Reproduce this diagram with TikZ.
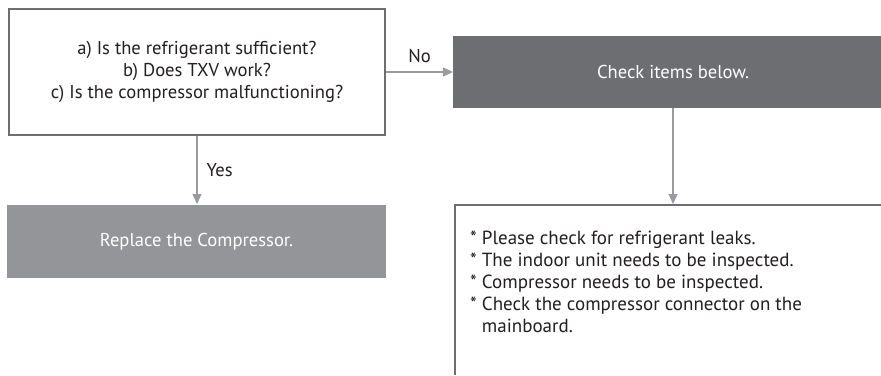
\documentclass[tikz,border=0pt]{standalone}
\usepackage{fontspec}
\setmainfont{PT Sans}
\usetikzlibrary{arrows.meta}
\definecolor{dgray}{HTML}{6D6E71}
\definecolor{lgray}{HTML}{939598}
\definecolor{agray}{HTML}{9A9B9E}
\definecolor{tblack}{HTML}{231F20}
\tikzset{
  x=1pt,y=-1pt,
  txt/.style={font=\fontsize{18.6}{21.7}\selectfont},
  qbox/.style={draw=dgray,line width=2pt,inner sep=0pt,txt,text=tblack,align=center},
  fillbox/.style={inner sep=0pt,txt,text=white,align=center},
  conn/.style={draw=agray,line width=1.3pt,-{Triangle[length=10pt,width=9pt]}},
  lbl/.style={txt,text=tblack,inner sep=0pt},
  edgeline/.style={draw=dgray,line width=2pt}
}
\begin{document}
\begin{tikzpicture}
\fill[white] (0,0) rectangle (881,375);
\useasboundingbox (0,0) rectangle (881,375);
\node[qbox,minimum width=376pt,minimum height=126pt] (q) at (197,72) {a) Is the refrigerant sufficient?\\b) Does TXV work?\\c) Is the compressor malfunctioning?};
\node[fillbox,fill=dgray,minimum width=428pt,minimum height=72pt,anchor=west] (c) at (453,72) {};
\node[fillbox,text=white] (ct) at (673,72) {Check items below.};
\node[fillbox,fill=lgray,minimum width=379pt,minimum height=73pt] (r) at (196.5,241.5) {Replace the Compressor.};
\coordinate (bc) at (455,205);
\path[edgeline] (455,375) -- (bc) -- (881,205);
\node[lbl,anchor=north west,align=left,font=\fontsize{19}{22}\selectfont] (bt) at (470,231) {* Please check for refrigerant leaks.\\
* The indoor unit needs to be inspected.\\
* Compressor needs to be inspected.\\
* Check the compressor connector on the\\
\phantom{* }mainboard.};
\coordinate (bn) at (673,204);
\coordinate (rn) at (197,204);
\path[conn] (q.east) -- (c.west) node[lbl,midway,above=9pt] {No};
\path[conn] (q.south -| rn) -- (rn) node[lbl,midway,right=9pt] {Yes};
\path[conn] (c.south -| bn) -- (bn);
\end{tikzpicture}
\end{document}
